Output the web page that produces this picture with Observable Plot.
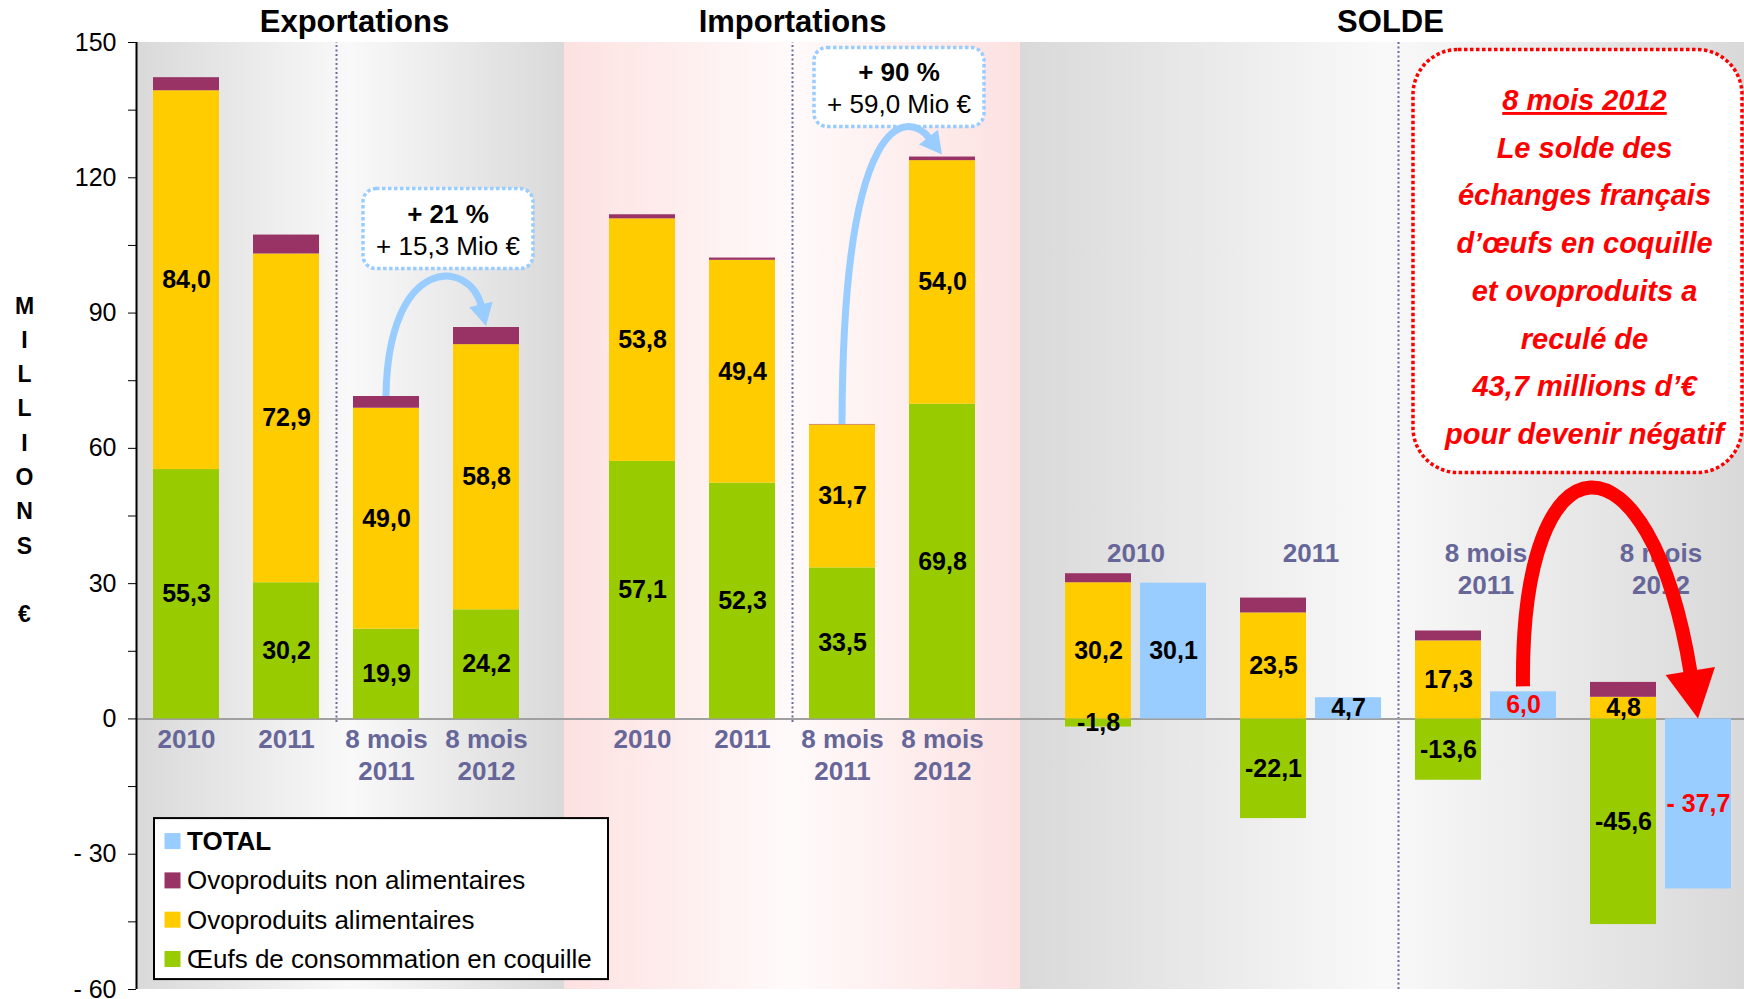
<!DOCTYPE html>
<html><head><meta charset="utf-8">
<script src="https://cdn.jsdelivr.net/npm/d3@7"></script>
<script src="https://cdn.jsdelivr.net/npm/@observablehq/plot@0.6"></script>
<style>
html,body{margin:0;padding:0;background:#fff;overflow:hidden;}
#chart{position:relative;width:1744px;height:999px;}
svg{display:block}
</style></head><body><div id="chart"></div>
<script>
// ---------------- data ----------------
const categories = ["2010", "2011", "8 mois 2011", "8 mois 2012"];
const sections = ["Exportations", "Importations", "SOLDE"];
const seriesNames = ["TOTAL", "Ovoproduits non alimentaires", "Ovoproduits alimentaires", "Œufs de consommation en coquille"];
const seriesColors = ["#99ccff", "#993366", "#ffcc00", "#99cc00"];
const exportEggs    = [55.3, 30.2, 19.9, 24.2];
const exportFood    = [84.0, 72.9, 49.0, 58.8];
const exportNonFood = [2.9, 4.2, 2.6, 3.8];
const importEggs    = [57.1, 52.3, 33.5, 69.8];
const importFood    = [53.8, 49.4, 31.7, 54.0];
const importNonFood = [0.9, 0.5, 0.1, 0.8];
const balanceEggs    = [-1.8, -22.1, -13.6, -45.6];
const balanceFood    = [30.2, 23.5, 17.3, 4.8];
const balanceNonFood = [2.0, 3.3, 2.2, 3.3];
const balanceTotal   = [30.1, 4.7, 6.0, -37.7];
const yTickValues = [-60, -45, -30, -15, 0, 15, 30, 45, 60, 75, 90, 105, 120, 135, 150];
const yAxisTitle = "M\nI\nL\nL\nI\nO\nN\nS\n\n€";
const calloutTexts = [["+ 21 %", "+ 15,3 Mio €"], ["+ 90 %", "+ 59,0 Mio €"]];
const noteLines = ["8 mois 2012", "Le solde des", "échanges français", "d’œufs en coquille", "et ovoproduits a", "reculé de", "43,7 millions d’€", "pour devenir négatif"];

// ---------------- layout (x in slot units) ----------------
const FONT = "'Liberation Sans', Arial, Helvetica, sans-serif";
const BAR = 2.64;
const panelEdges = [0, 17.12, 35.36, 64.32];
const titleDx = [4, 0, 8];
const expX = i => 2 + 4 * i;
const impX = i => 20.24 + 4 * i;
const solX = i => 38.48 + 7 * i;
const totX = i => 41.48 + 7 * i;
const sepExp = (expX(1) + expX(2)) / 2;
const sepImp = (impX(1) + impX(2)) / 2;
const sepSol = (totX(1) + solX(2)) / 2;

const fmt = v => d3.format(".1f")(v).replace("−", "-").replace(".", ",");

const segs = [];
function addStack(xc, eggs, food, non) {
  let pos = 0, neg = 0;
  [[seriesNames[3], eggs, true], [seriesNames[2], food, true], [seriesNames[1], non, false]].forEach(([s, v, lab]) => {
    let y1, y2;
    if (v >= 0) { y1 = pos; y2 = pos + v; pos = y2; } else { y1 = neg; y2 = neg + v; neg = y2; }
    segs.push({x: xc, y1, y2, series: s, label: lab ? fmt(v) : ""});
  });
}
const totals = [];
categories.forEach((c, i) => {
  addStack(expX(i), exportEggs[i], exportFood[i], exportNonFood[i]);
  addStack(impX(i), importEggs[i], importFood[i], importNonFood[i]);
  addStack(solX(i), balanceEggs[i], balanceFood[i], balanceNonFood[i]);
  const v = balanceTotal[i];
  totals.push({x: totX(i), y1: 0, y2: v, series: seriesNames[0],
    label: v < 0 ? "- " + fmt(-v) : fmt(v), red: i >= 2});
});
const twoLine = c => c.replace("8 mois ", "8 mois\n");
const axisCats = [];
categories.forEach((c, i) => {
  axisCats.push({x: expX(i), text: twoLine(c)});
  axisCats.push({x: impX(i), text: twoLine(c)});
});
const soldeCats = categories.map((c, i) => ({x: (solX(i) + totX(i)) / 2, text: twoLine(c)}));
const sum = a => a.reduce((s, v) => s + v, 0);
const expTot = categories.map((c, i) => sum([exportEggs[i], exportFood[i], exportNonFood[i]]));
const impTot = categories.map((c, i) => sum([importEggs[i], importFood[i], importNonFood[i]]));

const labelStyle = {fontSize: 25, fontWeight: "bold"};
const catStyle = {fill: "#666699", fontSize: 26, fontWeight: "bold", lineHeight: 1.23, lineAnchor: "top"};

const plot = Plot.plot({
  width: 1744, height: 999,
  marginLeft: 136, marginRight: 0, marginTop: 42, marginBottom: 10,
  style: {fontFamily: FONT, fontSize: "25px", color: "#000", background: "transparent"},
  x: {domain: [0, panelEdges[3]], axis: null},
  y: {domain: [-60, 150], ticks: yTickValues, label: null, tickSize: 8, tickPadding: 12,
      tickFormat: d => d % 30 !== 0 ? "" : d < 0 ? `- ${-d}` : `${d}`},
  color: {domain: seriesNames, range: seriesColors},
  marks: [
    ...sections.map((s, i) => Plot.rect([s], {x1: panelEdges[i], x2: panelEdges[i + 1], y1: -60, y2: 150, fill: `url(#bg${i})`})),
    Plot.ruleX([sepExp, sepImp], {y1: -0.8, y2: 150, stroke: "#6b6b9e", strokeWidth: 2, strokeDasharray: "2 2.5"}),
    Plot.ruleX([sepSol], {y1: -60, y2: 150, stroke: "#6b6b9e", strokeWidth: 2, strokeDasharray: "2 2.5"}),
    Plot.ruleY([0], {stroke: "#a0a0a0", strokeWidth: 2}),
    Plot.rect(segs.concat(totals), {x1: d => d.x - BAR / 2, x2: d => d.x + BAR / 2, y1: "y1", y2: "y2", fill: "series"}),
    Plot.text(segs.filter(d => d.label), {x: "x", y: d => (d.y1 + d.y2) / 2, text: "label", fill: "#000", ...labelStyle}),
    Plot.text(totals.filter(d => !d.red), {x: "x", y: d => d.y2 / 2, text: "label", fill: "#000", ...labelStyle}),
    Plot.text(totals.filter(d => d.red), {x: "x", y: d => d.y2 / 2, text: "label", fill: "#ff0000", ...labelStyle}),
    Plot.text(axisCats, {x: "x", y: 0, dy: 6, text: "text", ...catStyle}),
    Plot.text(soldeCats, {x: "x", y: 39.8, text: "text", ...catStyle}),
    Plot.text(sections, {x: (d, i) => (panelEdges[i] + panelEdges[i + 1]) / 2 + titleDx[i] / 25, y: 150, dy: -20, text: d => d, fontSize: 31, fontWeight: "bold", fill: "#000"}),
    Plot.text([yAxisTitle], {x: 0, y: 58.1, dx: -112, text: d => d, fontSize: 23, fontWeight: "bold", lineHeight: 1.49, fill: "#000"}),
    Plot.ruleX([0], {y1: -60, y2: 150, stroke: "#000", strokeWidth: 2})
  ]
});
document.getElementById("chart").appendChild(plot);

// ---------------- decorations using the plot's scales ----------------
const svg = d3.select(plot);
const xS = plot.scale("x"), yS = plot.scale("y"), cS = plot.scale("color");
const X = v => xS.apply(v), Y = v => yS.apply(v);
const defs = svg.insert("defs", ":first-child");
function grad(id, edge, mid) {
  const g = defs.append("linearGradient").attr("id", id).attr("x1", 0).attr("x2", 1).attr("y1", 0).attr("y2", 0);
  g.append("stop").attr("offset", 0).attr("stop-color", edge);
  g.append("stop").attr("offset", 0.5).attr("stop-color", mid);
  g.append("stop").attr("offset", 1).attr("stop-color", edge);
}
grad("bg0", "#d9d9d9", "#f9f9f9");
grad("bg1", "#fde1e1", "#fffafa");
grad("bg2", "#d9d9d9", "#f9f9f9");

const ann = svg.append("g").attr("font-family", FONT).attr("text-anchor", "middle");

function callout(cx, top, w, h, lines) {
  ann.append("rect").attr("x", cx - w / 2).attr("y", top).attr("width", w).attr("height", h).attr("rx", 13)
    .attr("fill", "#fff").attr("stroke", "#99ccff").attr("stroke-width", 3.5).attr("stroke-dasharray", "3.5 2.5");
  ann.append("text").attr("x", cx).attr("y", top + 34).attr("text-anchor", "middle").attr("font-size", 26).attr("font-weight", "bold").text(lines[0]);
  ann.append("text").attr("x", cx).attr("y", top + 66).attr("text-anchor", "middle").attr("font-size", 26).text(lines[1]);
}
function curvedArrow(p0, c1, c2, tip, color, width, headLen, headHalf) {
  const dx = tip[0] - c2[0], dy = tip[1] - c2[1], L = Math.hypot(dx, dy);
  const ux = dx / L, uy = dy / L;
  const base = [tip[0] - ux * headLen, tip[1] - uy * headLen];
  const end = [base[0] + ux * 2, base[1] + uy * 2];
  const p = d3.path(); p.moveTo(p0[0], p0[1]); p.bezierCurveTo(c1[0], c1[1], c2[0], c2[1], end[0], end[1]);
  ann.append("path").attr("d", p.toString()).attr("fill", "none").attr("stroke", color).attr("stroke-width", width);
  const px = -uy, py = ux;
  const pts = [tip, [base[0] + px * headHalf, base[1] + py * headHalf], [base[0] - px * headHalf, base[1] - py * headHalf]];
  ann.append("polygon").attr("points", pts.map(q => q.join(",")).join(" ")).attr("fill", color);
}

// export growth
callout(X((expX(2) + expX(3)) / 2) + 12, Y(117.5), 170, 80, calloutTexts[0]);
{
  const p0 = [X(expX(2)), Y(expTot[2])], tip = [X(expX(3)), Y(expTot[3]) - 1];
  curvedArrow(p0, [p0[0] + 2, p0[1] - 142], [tip[0] - 16, tip[1] - 68], tip, "#99ccff", 7, 22, 12);
}
// import growth
callout(X((impX(2) + impX(3)) / 2) + 7, Y(148.8), 170, 79, calloutTexts[1]);
{
  const p0 = [X(impX(2)), Y(impTot[2])], tip = [X(impX(3)), Y(impTot[3]) - 2];
  curvedArrow(p0, [p0[0] + 1, p0[1] - 315], [tip[0] - 35, tip[1] - 45], tip, "#99ccff", 7, 22, 12);
}
// red note
{
  const bx = X(sepSol) + 15, by = Y(149) + 3, bw = 329, bh = 423;
  ann.append("rect").attr("x", bx).attr("y", by).attr("width", bw).attr("height", bh).attr("rx", 45)
    .attr("fill", "#fff").attr("stroke", "#ff0000").attr("stroke-width", 3.5).attr("stroke-dasharray", "3.5 2.5");
  noteLines.forEach((t, k) => {
    const tx = ann.append("text").attr("x", bx + bw / 2 + 7).attr("y", by + 60.5 + k * 47.7).attr("text-anchor", "middle")
      .attr("font-size", 29).attr("font-weight", "bold").attr("font-style", "italic").attr("fill", "#ff0000").text(t);
    if (k === 0) tx.style("text-decoration", "underline");
  });
  const p0 = [X(totX(2)), Y(balanceTotal[2]) - 5], tip = [X(totX(3)), Y(0)];
  curvedArrow(p0, [p0[0] - 3, p0[1] - 262], [tip[0] - 48, tip[1] - 296], tip, "#ff0000", 14, 48, 25);
}
// legend
{
  const lg = svg.append("g").attr("font-family", FONT).attr("text-anchor", "start");
  const lx = X(0) + 18, ly = Y(-22.1);
  lg.append("rect").attr("x", lx).attr("y", ly).attr("width", 454).attr("height", 161)
    .attr("fill", "#fff").attr("stroke", "#000").attr("stroke-width", 2);
  seriesNames.forEach((s, k) => {
    const cy = ly + 23 + k * 39.3;
    lg.append("rect").attr("x", lx + 10.5).attr("y", cy - 8).attr("width", 16).attr("height", 16).attr("fill", cS.apply(s));
    lg.append("text").attr("x", lx + 33).attr("y", cy + 9).attr("font-size", 26).attr("text-anchor", "start")
      .attr("font-weight", k === 0 ? "bold" : "normal").attr("fill", "#000").text(s);
  });
}
</script></body></html>
